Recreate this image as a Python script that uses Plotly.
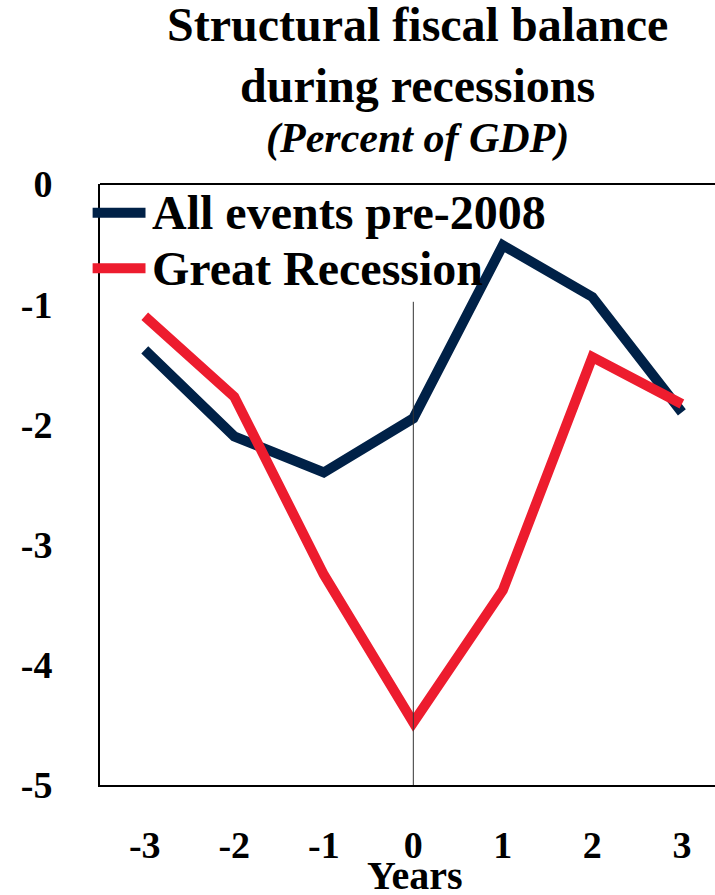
import plotly.graph_objects as go

years = [-3, -2, -1, 0, 1, 2, 3]
all_events = [-1.38, -2.10, -2.40, -1.95, -0.51, -0.94, -1.90]
great_recession = [-1.10, -1.77, -3.25, -4.48, -3.38, -1.44, -1.83]
series_names = ["All events pre-2008", "Great Recession"]
y_ticks = [0, -1, -2, -3, -4, -5]

navy = "#002147"
red = "#ed1c2e"
serif = "Times New Roman, Liberation Serif, serif"

fig = go.Figure()
fig.add_trace(go.Scatter(x=years, y=all_events, mode="lines", name=series_names[0],
                         line=dict(color=navy, width=10)))
fig.add_trace(go.Scatter(x=years, y=great_recession, mode="lines", name=series_names[1],
                         line=dict(color=red, width=10)))

# zero line (drawn over the series, starts just below the legend)
fig.add_shape(type="line", x0=0, x1=0, y0=-0.98, y1=-5, xref="x", yref="y",
              line=dict(color="#333333", width=1), layer="above")
# top border of the plot frame
fig.add_shape(type="line", x0=0, x1=1, y0=1, y1=1, xref="paper", yref="paper",
              line=dict(color="black", width=2))

# hand-made legend (long line samples)
legend_y = [0.952, 0.860]
legend_col = [navy, red]
for name, ly, col in zip(series_names, legend_y, legend_col):
    fig.add_shape(type="line", x0=-0.012, x1=0.074, y0=ly, y1=ly, xref="paper", yref="paper",
                  line=dict(color=col, width=10), layer="above")
    fig.add_annotation(text="<b>" + name + "</b>", x=0.081, y=ly, xref="paper", yref="paper",
                       xanchor="left", yanchor="middle", showarrow=False,
                       font=dict(family=serif, size=48, color="black"))

# title block
fig.add_annotation(text="<b>Structural fiscal balance</b>", x=0.517, y=1.2646, xref="paper", yref="paper",
                   xanchor="center", yanchor="middle", showarrow=False,
                   font=dict(family=serif, size=48, color="black"))
fig.add_annotation(text="<b>during recessions</b>", x=0.517, y=1.1647, xref="paper", yref="paper",
                   xanchor="center", yanchor="middle", showarrow=False,
                   font=dict(family=serif, size=48, color="black"))
fig.add_annotation(text="<b><i>(Percent of GDP)</i></b>", x=0.517, y=1.0765, xref="paper", yref="paper",
                   xanchor="center", yanchor="middle", showarrow=False,
                   font=dict(family=serif, size=42, color="black"))
fig.add_annotation(text="<b>Years</b>", x=0.512, y=-0.150, xref="paper", yref="paper",
                   xanchor="center", yanchor="middle", showarrow=False,
                   font=dict(family=serif, size=40, color="black"))

fig.update_xaxes(range=[-3.5, 3.37], tickvals=years, ticktext=["<b>%d</b>" % v for v in years],
                 showgrid=False, zeroline=False, showline=True, linecolor="black", linewidth=2,
                 ticks="", ticklabelstandoff=25, automargin=False,
                 tickfont=dict(family=serif, size=38, color="black"))
fig.update_yaxes(range=[-5, 0], tickvals=y_ticks, ticktext=["<b>%d</b>" % v for v in y_ticks],
                 showgrid=False, zeroline=False, showline=True, linecolor="black", linewidth=2,
                 ticks="", ticklabelstandoff=38, automargin=False,
                 tickfont=dict(family=serif, size=38, color="black"))

fig.update_layout(width=715, height=895, showlegend=False,
                  plot_bgcolor="white", paper_bgcolor="white",
                  margin=dict(l=100, r=0, t=184, b=110))

# drop the default page margin so the figure fills the window exactly
fig.write_html("out.html", config={"displayModeBar": False},
               post_script="document.body.style.margin='0';document.body.style.overflow='hidden';")
